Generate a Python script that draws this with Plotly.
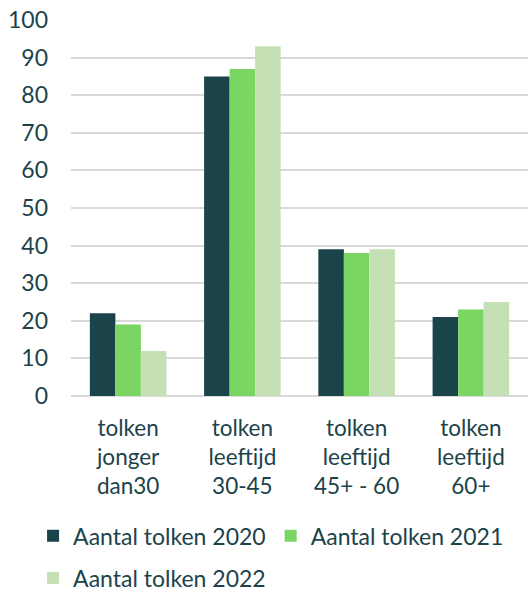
import plotly.graph_objects as go

categories = ["tolken<br>jonger<br>dan30", "tolken<br>leeftijd<br>30-45",
              "tolken<br>leeftijd<br>45+ - 60", "tolken<br>leeftijd<br>60+"]
series_names = ["Aantal tolken 2020", "Aantal tolken 2021", "Aantal tolken 2022"]
values_2020 = [22, 85, 39, 21]
values_2021 = [19, 87, 38, 23]
values_2022 = [12, 93, 39, 25]
colors = ["#1b434a", "#7bd563", "#c5e0b4"]
legend_ids = ["legend", "legend", "legend2"]

text_color = "#1c434a"
font_family = "Lato, 'Open Sans', sans-serif"

fig = go.Figure()
for name, vals, col, lg in zip(series_names, [values_2020, values_2021, values_2022],
                               colors, legend_ids):
    fig.add_trace(go.Bar(x=categories, y=vals, name=name, legend=lg,
                         marker=dict(color=col, line=dict(width=0))))

legend_style = dict(orientation="h", xanchor="left", yanchor="middle",
                    font=dict(size=23, color=text_color), traceorder="normal",
                    itemwidth=30, bgcolor="rgba(0,0,0,0)")

fig.update_layout(
    width=528, height=592,
    margin=dict(l=71, r=0, t=20, b=196, autoexpand=False),
    paper_bgcolor="white", plot_bgcolor="white",
    barmode="group", bargap=0.33, bargroupgap=0,
    font=dict(family=font_family, size=22, color=text_color),
    showlegend=True,
    legend=dict(x=-0.083, y=-0.372, **legend_style),
    legend2=dict(x=-0.083, y=-0.484, **legend_style),
    xaxis=dict(showgrid=False, ticks="", ticklabelstandoff=16,
               showline=False, tickangle=0, automargin=False,
               tickfont=dict(size=22.5)),
    yaxis=dict(range=[0, 100], dtick=10, showgrid=True, gridcolor="#d9d9d9",
               gridwidth=2, zeroline=True, zerolinecolor="#d9d9d9", zerolinewidth=2,
               ticks="", ticklabelstandoff=22, showline=False, automargin=False,
               tickfont=dict(size=23)),
)

fig.write_html("out.html")
